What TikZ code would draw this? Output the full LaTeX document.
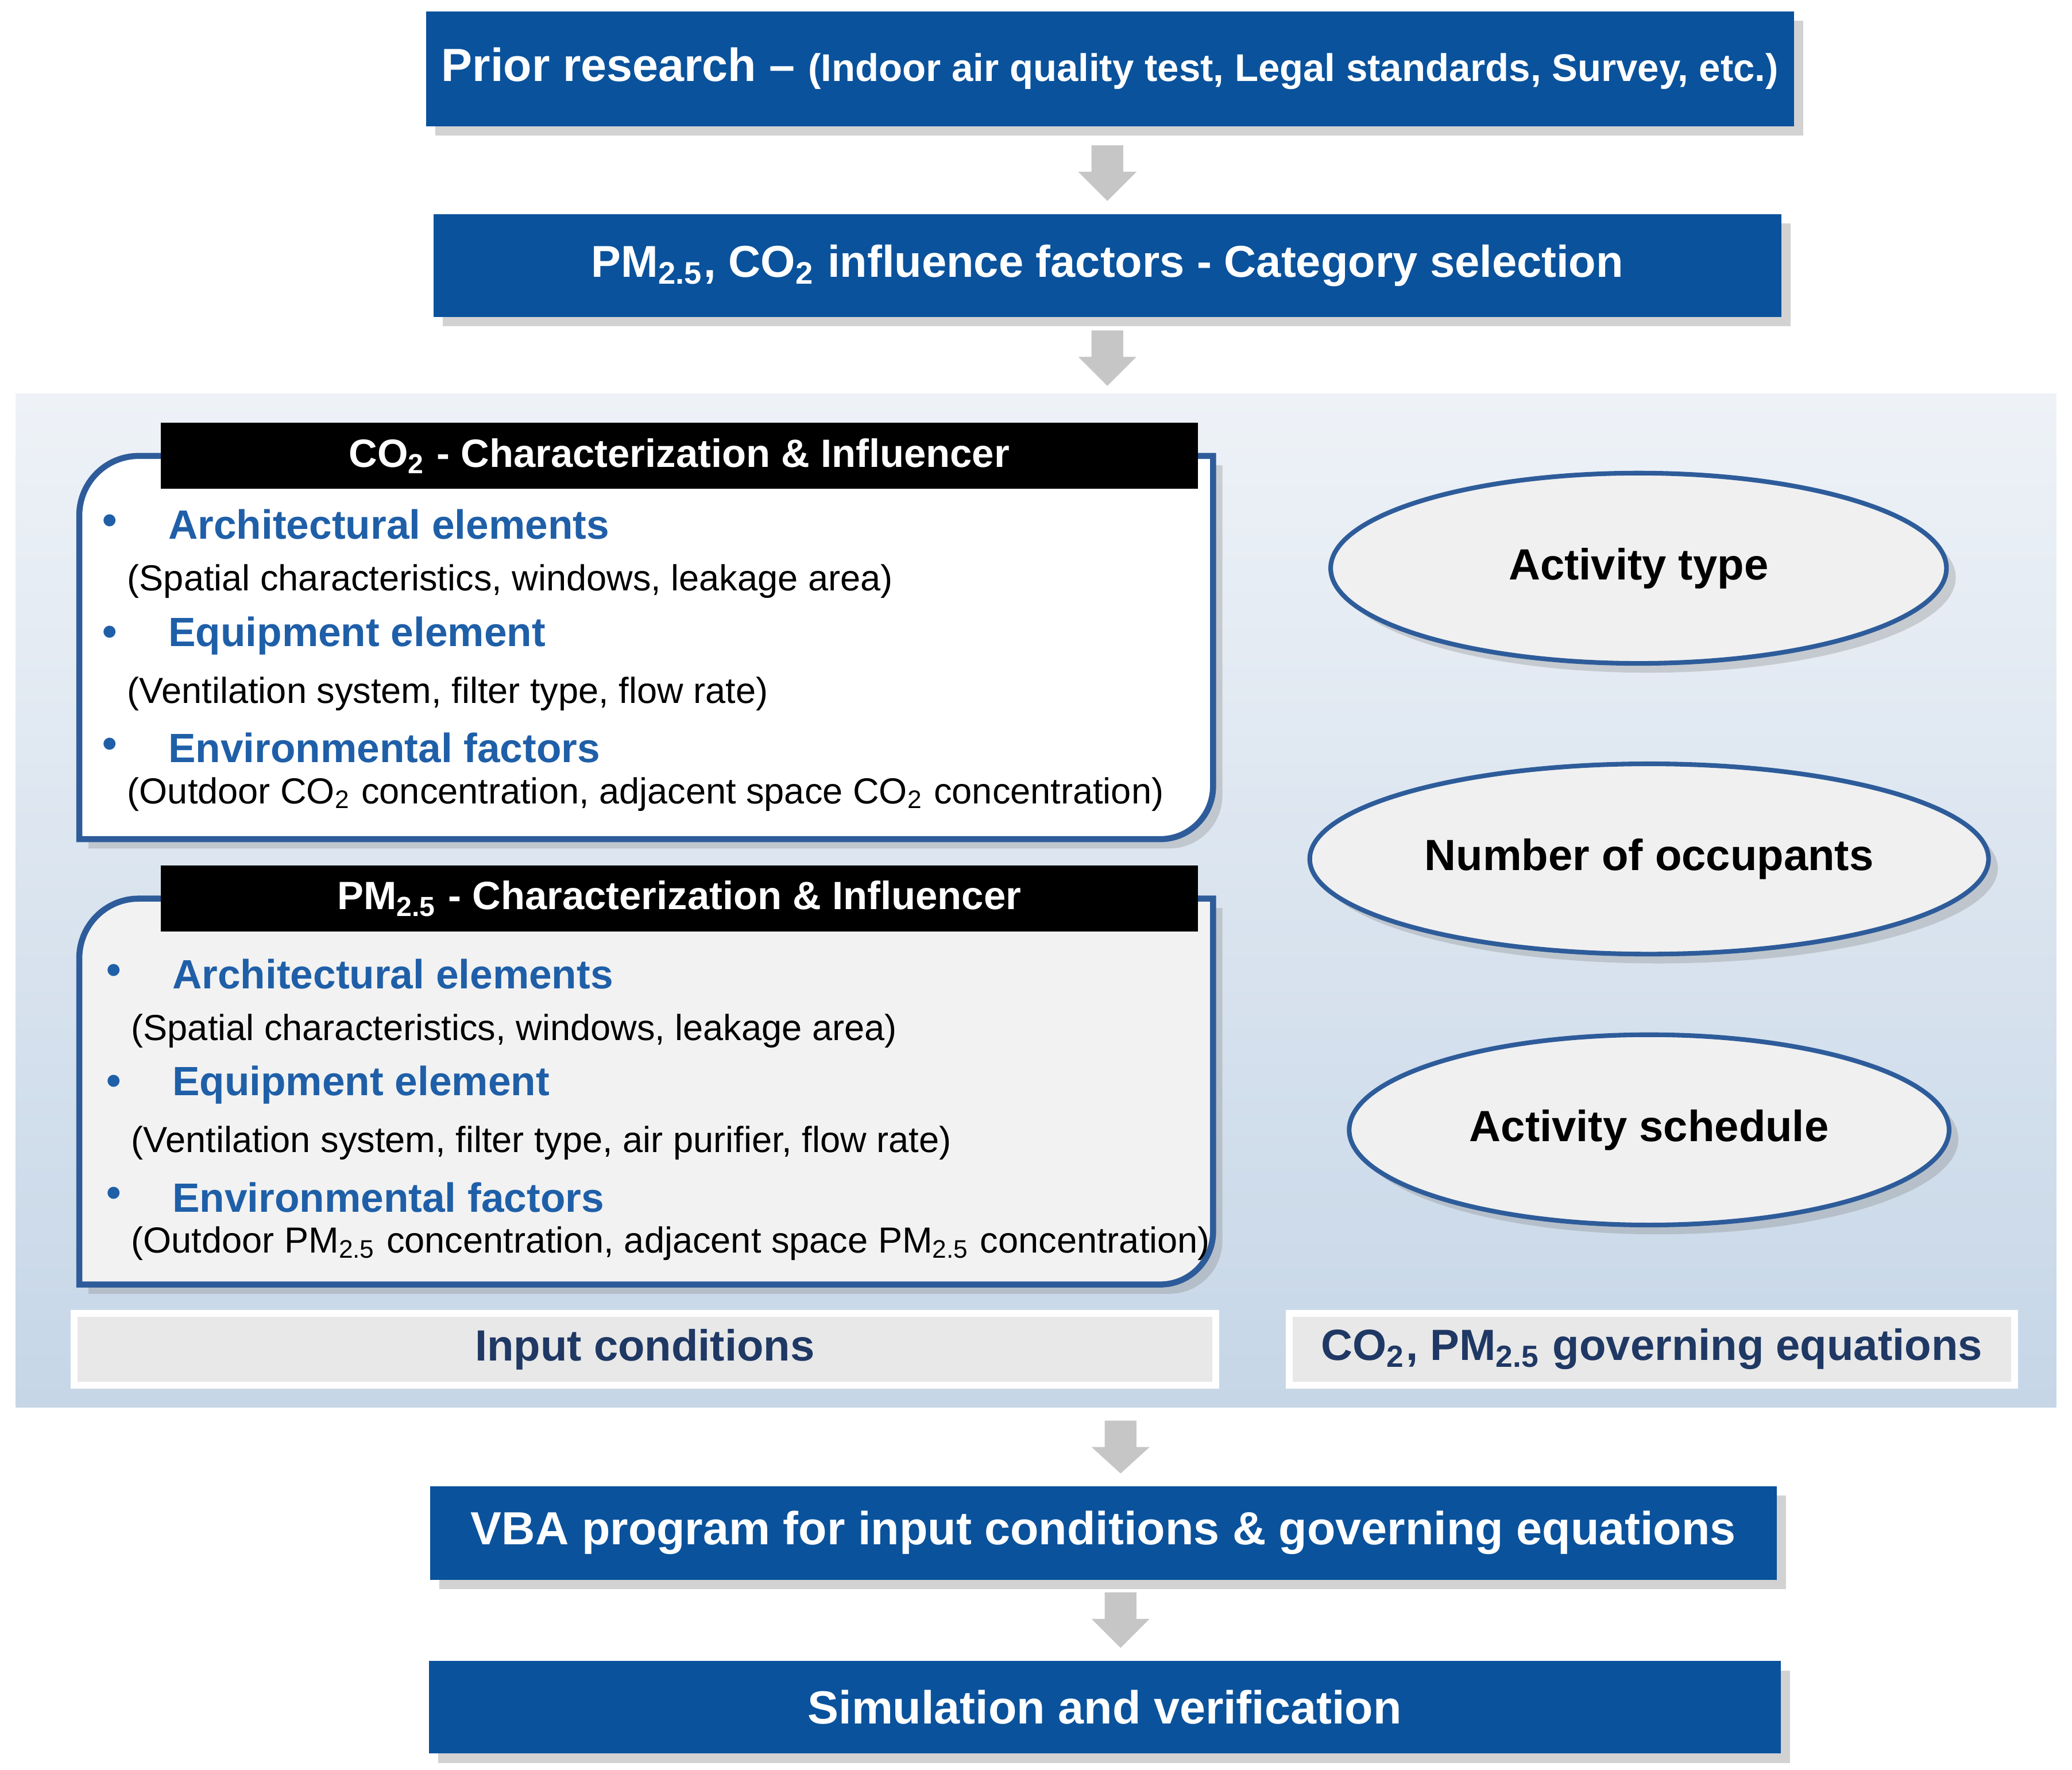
\documentclass[tikz,border=0pt]{standalone}
\usepackage{fontspec}
\setmainfont{Liberation Sans}
\usetikzlibrary{shapes.geometric,shadows,calc}
\definecolor{bbox}{HTML}{0A529C}
\definecolor{hblue}{HTML}{1F5FA8}
\definecolor{dblue}{HTML}{1F3864}
\definecolor{pbor}{HTML}{2E5C9A}
\definecolor{bgtop}{HTML}{EEF2F7}
\definecolor{bgbot}{HTML}{C6D6E7}
\tikzset{
 x=0.01cm,y=-0.01cm,
 bluebox/.style={fill=bbox,draw=none,text=white,font=\bfseries\fontsize{10}{12}\selectfont,drop shadow={shadow xshift=2pt,shadow yshift=-2pt,opacity=0.35}},
 garrow/.style={fill=gray!45,draw=none},
 hdr/.style={fill=black,text=white,font=\bfseries\fontsize{8.5}{10}\selectfont},
 head/.style={text=hblue,font=\bfseries\fontsize{8.8}{10}\selectfont,anchor=west},
 bul/.style={text=hblue,font=\bfseries\fontsize{9}{10}\selectfont,anchor=center},
 body/.style={font=\fontsize{7.8}{9}\selectfont,anchor=west},
 ell/.style={ellipse,fill=gray!12,draw=pbor,line width=1pt,font=\bfseries\fontsize{9.4}{11}\selectfont,drop shadow={shadow xshift=2pt,shadow yshift=-2pt,opacity=0.3}},
 lab/.style={fill=gray!18,draw=white,line width=1.5pt,text=dblue,font=\bfseries\fontsize{9.4}{11}\selectfont},
}
\newcommand{\garr}[3]{\fill[garrow] (#1-12,#2) -- (#1+12,#2) -- (#1+12,#2+20) -- (#1+22,#2+20) -- (#1,#3) -- (#1-22,#2+20) -- (#1-12,#2+20) -- cycle;}
\begin{document}
\begin{tikzpicture}
\useasboundingbox (0,0) rectangle (1568,1339);
\fill[white] (0,0) rectangle (1568,1339);
% background panel
\shade[top color=bgtop,bottom color=bgbot] (12,298) rectangle (1556,1065);
\node[bluebox,minimum width=1024*0.01cm,minimum height=87*0.01cm] (b1) at (840,52) {Prior research – {\fontsize{8.3}{10}\selectfont(Indoor air quality test, Legal standards, Survey, etc.)}};
\node[bluebox,minimum width=1020*0.01cm,minimum height=78*0.01cm,font=\bfseries\fontsize{9.6}{12}\selectfont] (b2) at (838,201) {PM\textsubscript{2.5}, CO\textsubscript{2} influence factors - Category selection};
\node[bluebox,minimum width=1019*0.01cm,minimum height=71*0.01cm] (b3) at (835,1160) {VBA program for input conditions \& governing equations};
\node[bluebox,minimum width=1023*0.01cm,minimum height=70*0.01cm] (b4) at (836,1292) {Simulation and verification};
\garr{838}{110}{152}
\garr{838}{250}{292}
\garr{848}{1075}{1115}
\garr{848}{1205}{1247}
% CO2 panel
\path[fill=white,draw=pbor,line width=1.3pt,drop shadow={shadow xshift=2pt,shadow yshift=-2pt,opacity=0.3}] (60,635) -- (60,390) arc[start angle=180,end angle=270,radius=45] -- (918,345) -- (918,595) arc[start angle=0,end angle=90,radius=40] -- cycle;
\node[hdr,minimum width=785*0.01cm,minimum height=47*0.01cm] (h1) at (514,345) {CO\textsubscript{2} - Characterization \& Influencer};
\node[bul] at (83,397) {•}; \node[head] (a1) at (115,397) {Architectural elements};
\node[body] at (84,440) {(Spatial characteristics, windows, leakage area)};
\node[bul] at (83,481) {•}; \node[head] (e1) at (115,481) {Equipment element};
\node[body] at (84,525) {(Ventilation system, filter type, flow rate)};
\node[bul] at (83,566) {•}; \node[head] (f1) at (115,566) {Environmental factors};
\node[body] at (84,601) {(Outdoor CO\textsubscript{2} concentration, adjacent space CO\textsubscript{2} concentration)};
% PM panel
\path[fill=gray!10,draw=pbor,line width=1.3pt,drop shadow={shadow xshift=2pt,shadow yshift=-2pt,opacity=0.3}] (60,972) -- (60,725) arc[start angle=180,end angle=270,radius=45] -- (918,680) -- (918,932) arc[start angle=0,end angle=90,radius=40] -- cycle;
\node[hdr,minimum width=785*0.01cm,minimum height=47*0.01cm] (h2) at (514,680) {PM\textsubscript{2.5} - Characterization \& Influencer};
\node[bul] at (86,737) {•}; \node[head] (a2) at (118,737) {Architectural elements};
\node[body] at (87,780) {(Spatial characteristics, windows, leakage area)};
\node[bul] at (86,821) {•}; \node[head] (e2) at (118,821) {Equipment element};
\node[body] at (87,865) {(Ventilation system, filter type, air purifier, flow rate)};
\node[bul] at (86,906) {•}; \node[head] (f2) at (118,906) {Environmental factors};
\node[body] at (87,941) {(Outdoor PM\textsubscript{2.5} concentration, adjacent space PM\textsubscript{2.5} concentration)};
% ellipses
\node[ell,minimum width=466*0.01cm,minimum height=144*0.01cm] (e-a) at (1240,430) {Activity type};
\node[ell,minimum width=454*0.01cm,minimum height=144*0.01cm] (e-n) at (1248,650) {Number of occupants};
\node[ell,minimum width=454*0.01cm,minimum height=144*0.01cm] (e-s) at (1248,855) {Activity schedule};
% labels
\node[lab,minimum width=864*0.01cm,minimum height=47*0.01cm] (l1) at (488,1021) {Input conditions};
\node[lab,minimum width=549*0.01cm,minimum height=47*0.01cm] (l2) at (1250,1021) {CO\textsubscript{2}, PM\textsubscript{2.5} governing equations};
\end{tikzpicture}
\end{document}
